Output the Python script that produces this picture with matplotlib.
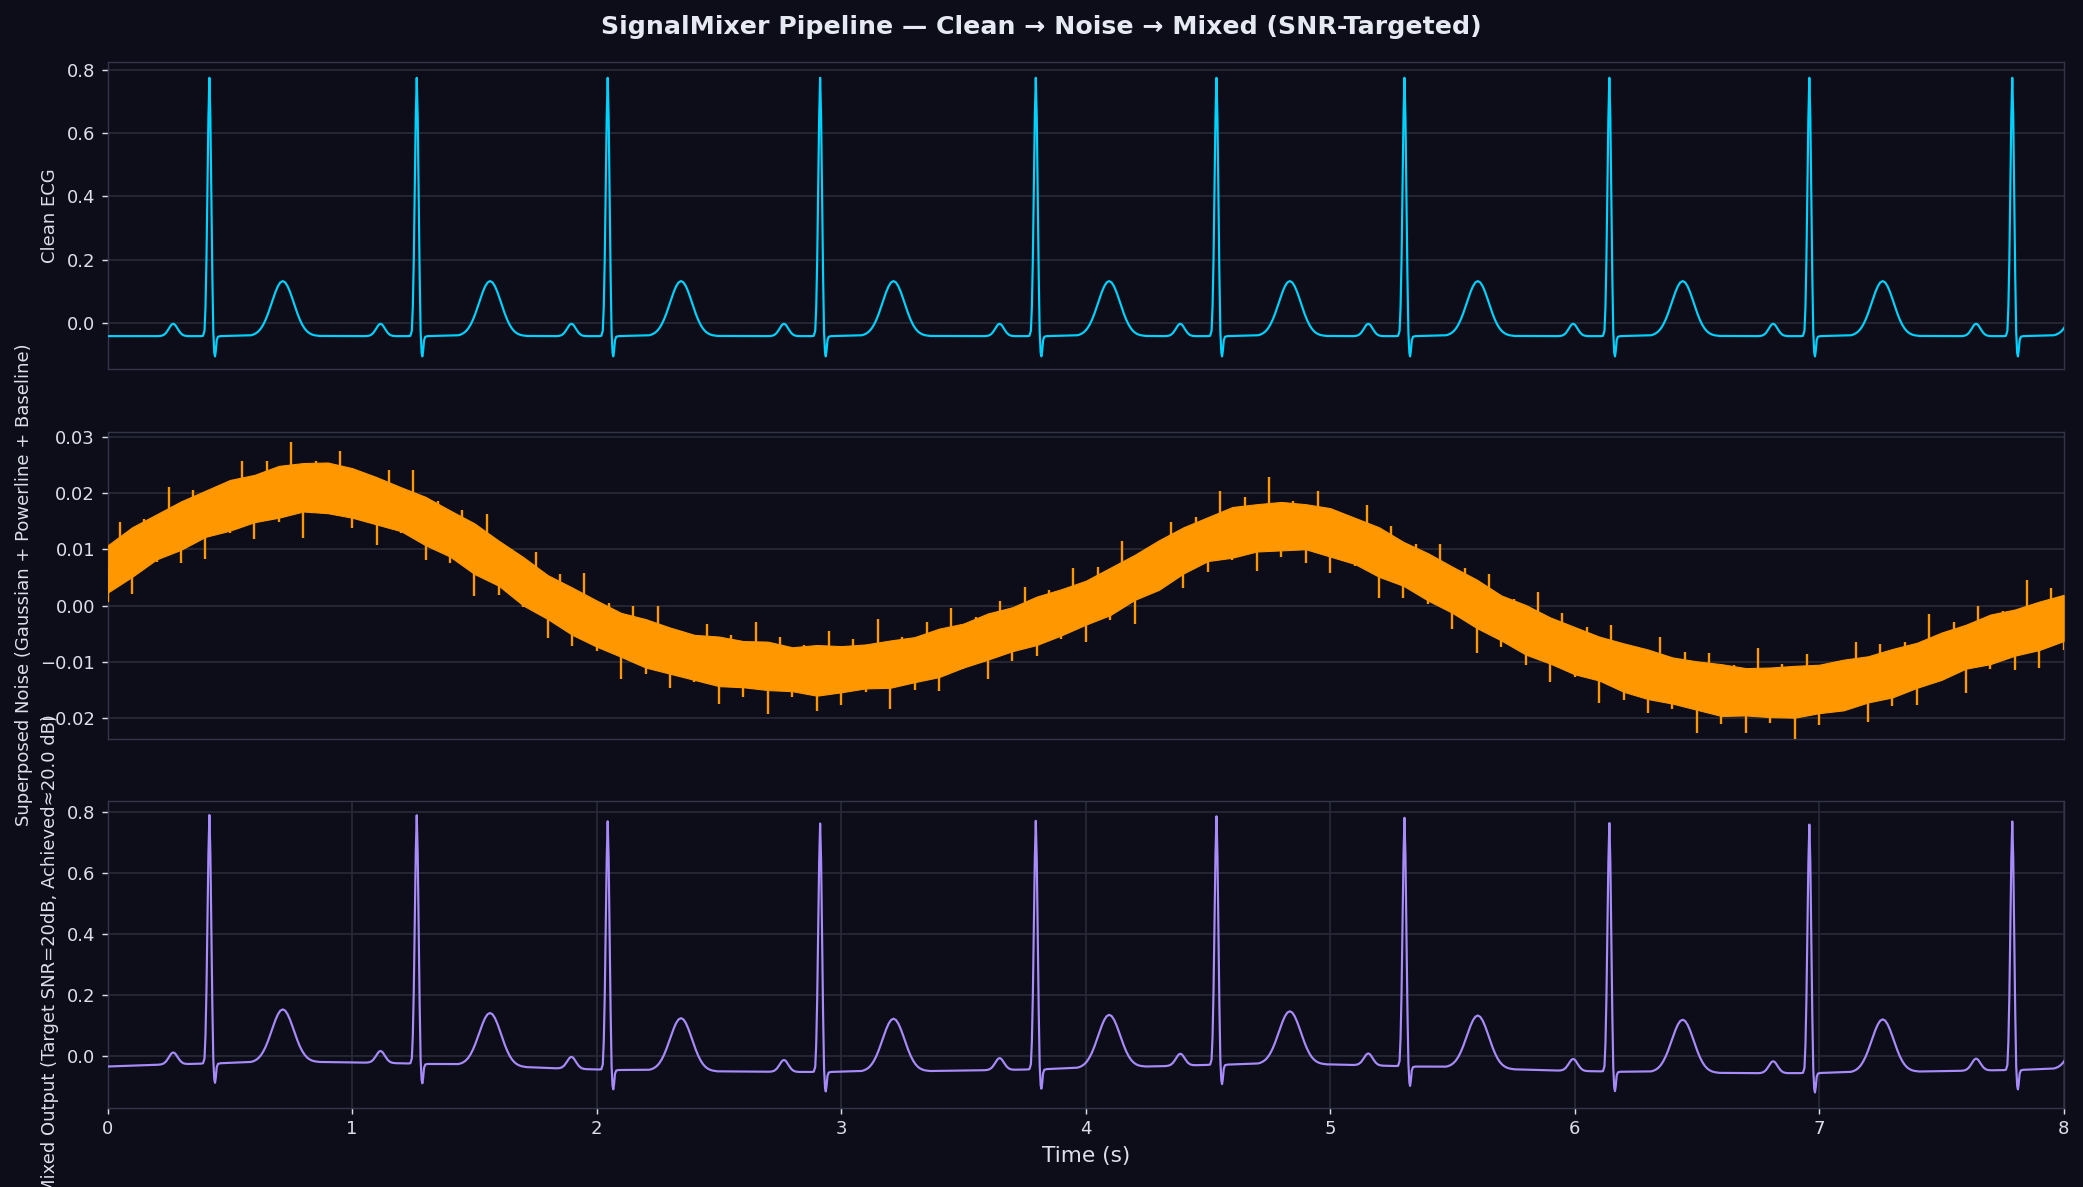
import numpy as np
import matplotlib
matplotlib.use("Agg")
import matplotlib.pyplot as plt

# colours
BG = "#0c0d18"
GRID = "#2a2b3a"
SPINE = "#33344a"
TEXT = "#dcdee8"
CYAN = "#00d2ff"
ORANGE = "#ff9800"
PURPLE = "#a78bfa"

# R-peak times (s)
r_times = [0.416, 1.264, 2.045, 2.914, 3.796, 4.535, 5.304, 6.142, 6.960, 7.790]

# one beat of the clean ECG, offsets (s) from the R peak and amplitude
beat_offsets = [
    -0.210, -0.198, -0.188, -0.178, -0.168, -0.158, -0.153, -0.148, -0.143,
    -0.138, -0.128, -0.118, -0.108, -0.098, -0.085,
    -0.035, -0.026, -0.020, -0.016, -0.012, -0.008, -0.004, 0.000, 0.004,
    0.008, 0.012, 0.016, 0.020, 0.023, 0.026, 0.030, 0.035, 0.045,
    0.170, 0.180, 0.190, 0.200, 0.210, 0.220, 0.230, 0.240, 0.250, 0.260,
    0.270, 0.280, 0.290, 0.300, 0.310, 0.320, 0.330, 0.340, 0.350, 0.360,
    0.370, 0.380, 0.390, 0.400, 0.410, 0.420, 0.430, 0.450,
]
beat_values = [
    -0.0420, -0.0412, -0.0387, -0.0323, -0.0210, -0.0086, -0.0045, -0.0030, -0.0045,
    -0.0086, -0.0210, -0.0323, -0.0387, -0.0412, -0.0420,
    -0.042, -0.041, -0.025, 0.050, 0.200, 0.420, 0.650, 0.775, 0.650,
    0.400, 0.150, -0.030, -0.095, -0.106, -0.090, -0.055, -0.044, -0.042,
    -0.0393, -0.0370, -0.0332, -0.0273, -0.0185, -0.0061, 0.0099, 0.0295, 0.0519, 0.0752,
    0.0973, 0.1156, 0.1278, 0.1320, 0.1278, 0.1156, 0.0973, 0.0752, 0.0519, 0.0295,
    0.0099, -0.0061, -0.0185, -0.0273, -0.0332, -0.0370, -0.0393, -0.0415,
]
baseline = -0.042

# superposed noise: centre of the band every 0.1 s and half width of its dense core
noise_t = np.linspace(0, 8, 81)
noise_mid = [
    0.0065, 0.0095, 0.0122, 0.0142, 0.0163, 0.0178, 0.0190, 0.0202, 0.0210, 0.0209,
    0.0200, 0.0186, 0.0171, 0.0150, 0.0128, 0.0101, 0.0075, 0.0043, 0.0015, -0.0010,
    -0.0032, -0.0052, -0.0067, -0.0080, -0.0092, -0.0099, -0.0104, -0.0107, -0.0113, -0.0115,
    -0.0113, -0.0108, -0.0104, -0.0096, -0.0084, -0.0071, -0.0055, -0.0042, -0.0027, -0.0012,
    0.0005, 0.0025, 0.0050, 0.0072, 0.0098, 0.0118, 0.0130, 0.0138, 0.0141, 0.0140,
    0.0130, 0.0115, 0.0095, 0.0074, 0.0051, 0.0028, 0.0003, -0.0022, -0.0043, -0.0062,
    -0.0080, -0.0094, -0.0110, -0.0122, -0.0133, -0.0142, -0.0150, -0.0153, -0.0154, -0.0153,
    -0.0148, -0.0141, -0.0131, -0.0120, -0.0106, -0.0090, -0.0073, -0.0060, -0.0048, -0.0036,
    -0.0022,
]
noise_core = [
    0.0042, 0.0044, 0.0040, 0.0043, 0.0041, 0.0045, 0.0042, 0.0046, 0.0043, 0.0045,
    0.0044, 0.0042, 0.0039, 0.0043, 0.0041, 0.0045, 0.0040, 0.0043, 0.0039, 0.0042,
    0.0041, 0.0039, 0.0043, 0.0041, 0.0040, 0.0044, 0.0041, 0.0043, 0.0039, 0.0045,
    0.0041, 0.0039, 0.0042, 0.0040, 0.0043, 0.0039, 0.0041, 0.0039, 0.0043, 0.0041,
    0.0039, 0.0042, 0.0040, 0.0044, 0.0041, 0.0039, 0.0045, 0.0042, 0.0043, 0.0040,
    0.0043, 0.0041, 0.0044, 0.0039, 0.0042, 0.0041, 0.0043, 0.0040, 0.0044, 0.0041,
    0.0042, 0.0039, 0.0043, 0.0044, 0.0041, 0.0043, 0.0046, 0.0042, 0.0044, 0.0046,
    0.0043, 0.0045, 0.0041, 0.0043, 0.0040, 0.0042, 0.0039, 0.0044, 0.0041, 0.0043,
    0.0041,
]
# spike tips: upward ones between the knots, downward ones on the knots (distance from centre)
spike_up_t = np.linspace(0.05, 7.95, 80)
spike_up = [
    0.0068, 0.0045, 0.0079, 0.0052, 0.0041, 0.0073, 0.0060, 0.0085, 0.0048, 0.0070,
    0.0043, 0.0062, 0.0081, 0.0047, 0.0056, 0.0075, 0.0042, 0.0066, 0.0053, 0.0078,
    0.0046, 0.0058, 0.0072, 0.0040, 0.0063, 0.0049, 0.0076, 0.0055, 0.0044, 0.0069,
    0.0051, 0.0082, 0.0045, 0.0061, 0.0074, 0.0043, 0.0057, 0.0067, 0.0048, 0.0071,
    0.0054, 0.0077, 0.0042, 0.0064, 0.0050, 0.0080, 0.0059, 0.0088, 0.0046, 0.0068,
    0.0041, 0.0073, 0.0056, 0.0047, 0.0070, 0.0052, 0.0065, 0.0044, 0.0076, 0.0058,
    0.0049, 0.0067, 0.0043, 0.0072, 0.0055, 0.0061, 0.0046, 0.0079, 0.0050, 0.0064,
    0.0042, 0.0071, 0.0057, 0.0048, 0.0083, 0.0053, 0.0066, 0.0045, 0.0087, 0.0060,
]
spike_dn = [
    0.0058, 0.0074, 0.0044, 0.0066, 0.0081, 0.0049, 0.0071, 0.0054, 0.0090, 0.0047,
    0.0063, 0.0078, 0.0042, 0.0069, 0.0052, 0.0084, 0.0057, 0.0045, 0.0073, 0.0061,
    0.0048, 0.0079, 0.0055, 0.0067, 0.0043, 0.0076, 0.0059, 0.0086, 0.0050, 0.0072,
    0.0064, 0.0046, 0.0080, 0.0053, 0.0068, 0.0041, 0.0075, 0.0056, 0.0062, 0.0047,
    0.0070, 0.0051, 0.0083, 0.0044, 0.0066, 0.0058, 0.0049, 0.0077, 0.0054, 0.0065,
    0.0072, 0.0045, 0.0081, 0.0060, 0.0048, 0.0069, 0.0087, 0.0052, 0.0063, 0.0074,
    0.0046, 0.0079, 0.0057, 0.0068, 0.0050, 0.0085, 0.0061, 0.0073, 0.0055, 0.0089,
    0.0064, 0.0047, 0.0076, 0.0059, 0.0070, 0.0043, 0.0082, 0.0053, 0.0067, 0.0075,
    0.0056,
]

title = "SignalMixer Pipeline \u2014 Clean \u2192 Noise \u2192 Mixed (SNR-Targeted)"
ylabels = [
    "Clean ECG",
    "Superposed Noise (Gaussian + Powerline + Baseline)",
    "Mixed Output (Target SNR=20dB, Achieved\u224820.0 dB)",
]

# place the beat template at each R peak
clean_t = [0.0]
clean_v = [baseline]
for r in r_times:
    clean_t += [r + o for o in beat_offsets]
    clean_v += beat_values
clean_t = np.array(clean_t)
clean_v = np.array(clean_v)

mid = np.array(noise_mid)
core = np.array(noise_core)
up_mid = np.interp(spike_up_t, noise_t, mid)
mixed_v = clean_v + np.interp(clean_t, noise_t, mid)

fig, axes = plt.subplots(3, 1, sharex=True, figsize=(2083 / 130, 1187 / 130), dpi=130)
fig.patch.set_facecolor(BG)
fig.subplots_adjust(left=0.0517, right=0.9907, top=0.9475, bottom=0.0668, hspace=0.2026)

ax1, ax2, ax3 = axes
ax1.plot(clean_t, clean_v, color=CYAN, lw=1.2, zorder=3)
ax2.fill_between(noise_t, mid - core, mid + core, color=ORANGE, lw=0.6,
                 edgecolor=ORANGE, zorder=3)
ax2.vlines(spike_up_t, up_mid, up_mid + np.array(spike_up), color=ORANGE, lw=1.3, zorder=3)
ax2.vlines(noise_t, mid - np.array(spike_dn), mid, color=ORANGE, lw=1.3, zorder=3)
ax3.plot(clean_t, mixed_v, color=PURPLE, lw=1.2, zorder=3)

ax1.set_ylim(-0.147, 0.824)
ax2.set_ylim(-0.0236, 0.0309)
ax3.set_ylim(-0.171, 0.8385)
ax3.set_xlim(0, 8)

for ax, lab in zip(axes, ylabels):
    ax.set_facecolor(BG)
    for sp in ax.spines.values():
        sp.set_color(SPINE)
    ax.tick_params(colors=TEXT, labelsize=10)
    ax.set_ylabel(lab, color=TEXT, fontsize=10)

ax1.grid(axis="y", color=GRID, lw=0.9)
ax2.grid(axis="y", color=GRID, lw=0.9)
ax3.grid(True, color=GRID, lw=0.9)
ax1.tick_params(axis="x", bottom=False)
ax2.tick_params(axis="x", bottom=False)

ax3.set_xlabel("Time (s)", color=TEXT, fontsize=12)
fig.suptitle(title, fontsize=14, fontweight="bold", color="#e6e8f2", y=0.9776, va="center")

fig.savefig("out.png", dpi=130, facecolor=BG)
